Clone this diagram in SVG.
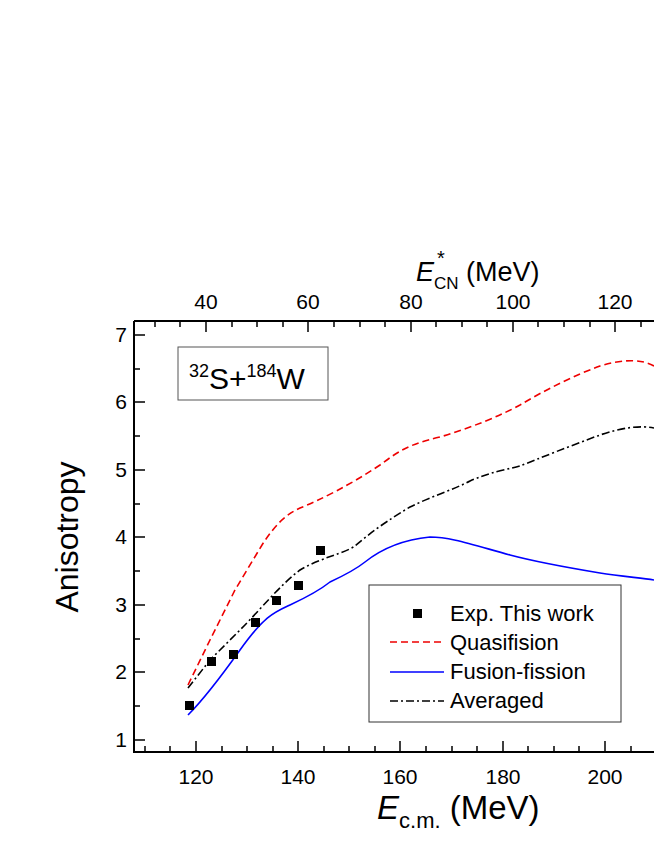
<svg xmlns="http://www.w3.org/2000/svg" width="654" height="846" viewBox="0 0 654 846">
<style>
text{font-family:"Liberation Sans",Arial,sans-serif;fill:#000}
.t{font-size:21px;text-anchor:middle}
.ax{stroke:#000;stroke-width:2;fill:none}
.tk{stroke:#000;stroke-width:1.5}
.c{fill:none;stroke-width:1.6}
</style>
<rect width="654" height="846" fill="#fff"/>
<g id="axes">
<path class="ax" d="M134,321 V752 H654 M134,321 H654"/>
<g class="tk">
<path d="M196,752v-11M298,752v-11M400,752v-11M503,752v-11M605,752v-11"/>
<path d="M145,752v-6M170,752v-6M222,752v-6M247,752v-6M273,752v-6M324,752v-6M349,752v-6M375,752v-6M426,752v-6M452,752v-6M477,752v-6M528,752v-6M554,752v-6M579,752v-6M631,752v-6"/>
<path d="M206,321v11M308,321v11M411,321v11M513,321v11M615,321v11"/>
<path d="M155,321v6M180,321v6M232,321v6M257,321v6M283,321v6M334,321v6M360,321v6M385,321v6M436,321v6M462,321v6M487,321v6M538,321v6M564,321v6M590,321v6M641,321v6"/>
<path d="M134,740h11M134,672h11M134,605h11M134,537h11M134,470h11M134,402h11M134,335h11"/>
<path d="M134,706h6M134,639h6M134,571h6M134,504h6M134,436h6M134,369h6"/>
</g>
<g class="t">
<text x="196" y="784">120</text><text x="298" y="784">140</text><text x="400" y="784">160</text><text x="503" y="784">180</text><text x="605" y="784">200</text>
<text x="206" y="309">40</text><text x="308" y="309">60</text><text x="411" y="309">80</text><text x="513" y="309">100</text><text x="615" y="309">120</text>
</g>
<g style="font-size:21px;text-anchor:end">
<text x="127" y="747">1</text><text x="127" y="679">2</text><text x="127" y="612">3</text><text x="127" y="544">4</text><text x="127" y="477">5</text><text x="127" y="409">6</text><text x="127" y="342">7</text>
</g>
<text x="377" y="819" style="font-size:33px"><tspan font-style="italic">E</tspan><tspan font-size="22" dy="9">c.m.</tspan><tspan dy="-9"> (MeV)</tspan></text>
<text x="416" y="281" style="font-size:27px"><tspan font-style="italic">E</tspan><tspan font-size="17" dy="8">CN</tspan><tspan dy="-8"> (MeV)</tspan></text>
<text x="437" y="265" style="font-size:20px">*</text>
<text transform="translate(78,537) rotate(-90)" style="font-size:32px;text-anchor:middle">Anisotropy</text>
</g>
<g id="label">
<rect x="178" y="347" width="150" height="53" fill="#fff" stroke="#555" stroke-width="1"/>
<text x="189" y="389" style="font-size:30px"><tspan font-size="18" dy="-12">32</tspan><tspan dy="12">S+</tspan><tspan font-size="18" dy="-12">184</tspan><tspan dy="12">W</tspan></text>
</g>
<g id="curves">
<path class="c" stroke="#e00" stroke-dasharray="7,4" d="M188,685 L210,640 L235,590 L262,545 C275,525 285,515 300,508 C320,500 350,485 380,465 C400,450 410,444 440,437 C470,428 500,416 520,405 C545,390 575,375 600,366 C620,360 640,358 654,366"/>
<path class="c" stroke="#000" stroke-dasharray="8,3,2,3" d="M188,688 L210,660 L240,630 C260,610 280,585 300,570 C320,558 345,553 355,546 C365,538 375,528 410,507 C430,497 455,489 470,481 C490,472 505,470 520,466 C540,458 570,446 600,435 C620,428 640,425 654,428"/>
<path class="c" stroke="#00f" d="M188,715 C200,703 215,685 240,650 S275,612 290,605 C305,598 320,590 330,582 C345,575 355,570 365,562 C380,550 400,540 430,537 C450,537 470,544 510,555 C540,563 570,568 600,573 C620,576 640,578 654,580"/>
</g>
<g id="points" fill="#000">
<rect x="185" y="701" width="9" height="9"/><rect x="207" y="657" width="9" height="9"/><rect x="229" y="650" width="9" height="9"/><rect x="251" y="618" width="9" height="9"/><rect x="272" y="596" width="9" height="9"/><rect x="294" y="581" width="9" height="9"/><rect x="316" y="546" width="9" height="9"/>
</g>
<g id="legend">
<rect x="369" y="585" width="252" height="137" fill="#fff" stroke="#333" stroke-width="1"/>
<rect x="413" y="609" width="9" height="9" fill="#000"/>
<path class="c" stroke="#e00" stroke-dasharray="7,4" d="M390,642H444"/>
<path class="c" stroke="#00f" d="M390,672H444"/>
<path class="c" stroke="#000" stroke-dasharray="8,3,2,3" d="M390,701H444"/>
<g style="font-size:22px">
<text x="450" y="621">Exp. This work</text><text x="450" y="650">Quasifision</text><text x="450" y="679">Fusion-fission</text><text x="450" y="708">Averaged</text>
</g>
</g>
</svg>
